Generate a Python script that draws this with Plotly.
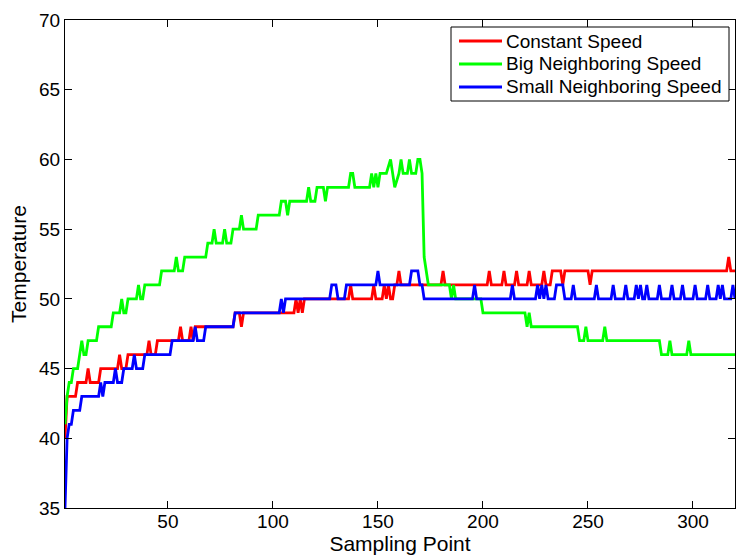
import plotly.graph_objects as go

# Vertices of the step-like sampled curves (sampling point, temperature)
red_x = [1, 2, 6, 7, 11, 12, 13, 17, 18, 26, 27, 28, 30, 31, 40, 41, 42, 44, 45, 55, 56, 57, 60, 61, 62, 63,
         81, 82, 84, 85, 86, 110, 111, 112, 113, 114, 115, 136, 137, 138, 147, 148, 149, 152, 153, 154, 155, 156,
         157, 158, 159, 160, 161, 180, 181, 182, 202, 203, 204, 209, 210, 211, 215, 216, 217, 221, 222, 223,
         228, 229, 230, 232, 233, 237, 238, 239, 250, 251, 252, 316, 317, 318, 320]
red_y = [40, 43, 43, 44, 44, 45, 44, 44, 45, 45, 46, 45, 45, 46, 46, 47, 46, 46, 47, 47, 48, 47, 47, 48, 47, 48,
         48, 49, 49, 48, 49, 49, 50, 49, 50, 49, 50, 50, 51, 50, 50, 51, 50, 50, 51, 50, 51, 50,
         50, 51, 51, 52, 51, 51, 52, 51, 51, 52, 51, 51, 52, 51, 51, 52, 51, 51, 52, 51,
         51, 52, 51, 51, 52, 52, 51, 52, 52, 51, 52, 52, 53, 52, 52]

green_x = [1, 2, 3, 4, 5, 7, 8, 9, 10, 11, 12, 16, 17, 23, 24, 27, 28, 29, 30, 31, 35, 36, 37, 38, 39, 46, 47,
           53, 54, 55, 57, 58, 68, 69, 71, 72, 73, 76, 77, 78, 80, 81, 84, 85, 86, 92, 93, 103, 104, 106, 107,
           108, 116, 117, 118, 120, 121, 124, 125, 126, 136, 137, 138, 139, 146, 147, 148, 149, 150, 151, 154,
           156, 157, 158, 160, 161, 162, 164, 165, 166, 168, 169, 170, 171, 172, 173, 174, 184, 185, 186, 187,
           199, 200, 220, 221, 222, 223, 245, 246, 248, 249, 250, 257, 258, 259, 284, 285, 288, 289, 290, 297,
           298, 299, 320]
green_y = [41, 43, 44, 44, 45, 45, 46, 47, 46, 46, 47, 47, 48, 48, 49, 49, 50, 49, 49, 50, 50, 51, 50, 50, 51, 51, 52,
           52, 53, 52, 52, 53, 53, 54, 54, 55, 54, 54, 55, 54, 54, 55, 55, 56, 55, 55, 56, 56, 57, 57, 56,
           57, 57, 58, 57, 57, 58, 58, 57, 58, 58, 59, 59, 58, 58, 59, 58, 59, 58, 59, 59,
           60, 59, 58, 59, 60, 59, 59, 60, 59, 59, 60, 60, 59, 53, 52, 51, 51, 50, 51, 50,
           50, 49, 49, 48, 49, 48, 48, 47, 47, 48, 47, 47, 48, 47, 47, 46, 46, 47, 46, 46,
           47, 46, 46]

blue_x = [1, 2, 3, 4, 5, 8, 9, 17, 18, 19, 20, 24, 25, 26, 28, 29, 33, 34, 35, 38, 39, 51, 52, 62, 63, 64, 67, 68,
          81, 82, 103, 104, 105, 106, 127, 128, 130, 131, 134, 135, 149, 150, 151, 165, 166, 169, 170, 171, 172,
          195, 196, 197, 213, 214, 215, 225, 226, 227, 228, 229, 230, 231, 234, 235, 238, 239, 242, 243, 244,
          253, 254, 255, 261, 262, 263, 267, 268, 269, 272, 273, 274, 275, 276, 277, 278, 279, 283, 284, 285,
          289, 290, 291, 294, 295, 296, 300, 301, 302, 306, 307, 308, 311, 312, 313, 314, 315, 318, 319, 320]
blue_y = [35, 40, 41, 41, 42, 42, 43, 43, 44, 43, 44, 44, 45, 44, 44, 45, 45, 46, 45, 45, 46, 46, 47, 47, 48, 47, 47, 48,
          48, 49, 49, 50, 49, 50, 50, 51, 51, 50, 50, 51, 51, 52, 51, 51, 52, 52, 51, 51, 50,
          50, 51, 50, 50, 51, 50, 50, 51, 50, 51, 50, 51, 50, 50, 51, 51, 50, 50, 51, 50,
          50, 51, 50, 50, 51, 50, 50, 51, 50, 50, 51, 50, 51, 50, 50, 51, 50, 50, 51, 50,
          50, 51, 50, 50, 51, 50, 50, 51, 50, 50, 51, 50, 50, 51, 50, 51, 50, 50, 51, 50]

series_names = ["Constant Speed", "Big Neighboring Speed", "Small Neighboring Speed"]
series_colors = ["#ff0000", "#00ff00", "#0000ff"]
x_ticks = [50, 100, 150, 200, 250, 300]
y_ticks = [35, 40, 45, 50, 55, 60, 65, 70]

FONT = "Liberation Sans, Arial, Helvetica, sans-serif"

fig = go.Figure()
for xs, ys, name, col in zip([red_x, green_x, blue_x], [red_y, green_y, blue_y], series_names, series_colors):
    fig.add_trace(go.Scatter(x=xs, y=ys, mode="lines", name=name,
                             line=dict(color=col, width=2.8), showlegend=False))

axis_common = dict(showline=True, linecolor="black", linewidth=1, mirror="ticks",
                   ticks="inside", ticklen=7, tickcolor="black", tickwidth=1,
                   showgrid=False, zeroline=False,
                   tickfont=dict(family=FONT, size=19, color="black"))

fig.update_xaxes(range=[1, 320], tickvals=x_ticks, ticktext=[str(v) for v in x_ticks],
                 ticklabelstandoff=-4,
                 title=dict(text="Sampling Point", font=dict(family=FONT, size=21, color="black"), standoff=3),
                 **axis_common)
fig.update_yaxes(range=[35, 70], tickvals=y_ticks, ticktext=[str(v) for v in y_ticks],
                 title=dict(text="Temperature", font=dict(family=FONT, size=21, color="black"), standoff=6),
                 **axis_common)

# Manual MATLAB-style legend (paper coordinates)
L, R, T, B = 65, 735, 20, 508
def px(xp):
    return (xp - L) / (R - L)
def py(yp):
    return (B - yp) / (B - T)

shapes = [dict(type="rect", xref="paper", yref="paper", x0=px(451), x1=px(729), y0=py(101), y1=py(27),
               line=dict(color="black", width=1), fillcolor="white", layer="above")]
annotations = []
rows = [41, 64, 87]
for name, col, ry in zip(series_names, series_colors, rows):
    shapes.append(dict(type="line", xref="paper", yref="paper", x0=px(459), x1=px(502), y0=py(ry), y1=py(ry),
                       line=dict(color=col, width=2.8), layer="above"))
    annotations.append(dict(xref="paper", yref="paper", x=px(504), y=py(ry), text=name, showarrow=False,
                            xanchor="left", yanchor="middle",
                            font=dict(family=FONT, size=19, color="black")))

fig.update_layout(width=736, height=557, margin=dict(l=65, r=1, t=20, b=49),
                  paper_bgcolor="white", plot_bgcolor="white",
                  shapes=shapes, annotations=annotations, showlegend=False)

fig.write_html("out.html")
